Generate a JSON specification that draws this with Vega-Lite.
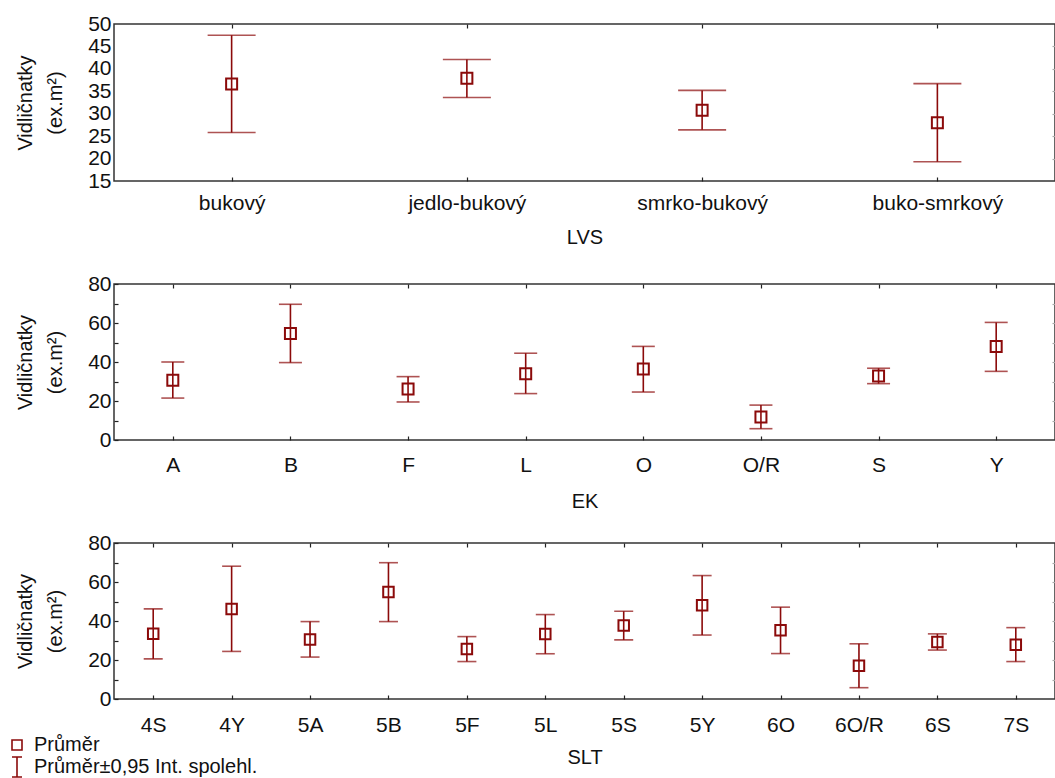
{
  "$schema": "https://vega.github.io/schema/vega-lite/v6.json",
  "padding": {"left": 5, "top": 12, "right": 0, "bottom": 0},
  "background": "white",
  "bounds": "flush",
  "spacing": 103,
  "config": {
    "font": "Liberation Sans",
    "view": {"stroke": "#333333", "strokeWidth": 1.5},
    "axis": {
      "labelFont": "Liberation Sans",
      "titleFont": "Liberation Sans",
      "labelFontSize": 21,
      "titleFontSize": 20,
      "labelColor": "#111111",
      "titleColor": "#111111",
      "titleFontWeight": "normal",
      "domain": false,
      "grid": false,
      "tickColor": "#222222",
      "tickWidth": 1.2
    },
    "legend": {
      "labelFont": "Liberation Sans",
      "labelFontSize": 20,
      "labelColor": "#111111",
      "labelLimit": 600
    }
  },
  "datasets": {
    "lvs": [
      {"cat": "bukový", "mean": 36.6, "lo": 25.8, "hi": 47.5},
      {"cat": "jedlo-bukový", "mean": 37.9, "lo": 33.6, "hi": 42.1},
      {"cat": "smrko-bukový", "mean": 30.8, "lo": 26.4, "hi": 35.2},
      {"cat": "buko-smrkový", "mean": 28.0, "lo": 19.3, "hi": 36.7}
    ],
    "ek": [
      {"cat": "A", "mean": 30.6, "lo": 21.5, "hi": 40.0},
      {"cat": "B", "mean": 54.6, "lo": 39.7, "hi": 69.6},
      {"cat": "F", "mean": 26.2, "lo": 19.5, "hi": 32.5},
      {"cat": "L", "mean": 34.0, "lo": 23.8, "hi": 44.5},
      {"cat": "O", "mean": 36.4, "lo": 24.6, "hi": 48.0},
      {"cat": "O/R", "mean": 11.8, "lo": 5.8, "hi": 17.9},
      {"cat": "S", "mean": 32.8, "lo": 28.9, "hi": 36.8},
      {"cat": "Y", "mean": 47.9, "lo": 35.2, "hi": 60.3}
    ],
    "slt": [
      {"cat": "4S", "mean": 33.4, "lo": 20.6, "hi": 46.2},
      {"cat": "4Y", "mean": 46.2, "lo": 24.4, "hi": 68.1},
      {"cat": "5A", "mean": 30.5, "lo": 21.5, "hi": 39.7},
      {"cat": "5B", "mean": 54.9, "lo": 39.7, "hi": 69.9},
      {"cat": "5F", "mean": 25.7, "lo": 19.2, "hi": 32.0},
      {"cat": "5L", "mean": 33.3, "lo": 23.2, "hi": 43.3},
      {"cat": "5S", "mean": 37.7, "lo": 30.3, "hi": 45.0},
      {"cat": "5Y", "mean": 48.1, "lo": 32.8, "hi": 63.3},
      {"cat": "6O", "mean": 35.3, "lo": 23.3, "hi": 47.1},
      {"cat": "6O/R", "mean": 17.0, "lo": 5.8, "hi": 28.3},
      {"cat": "6S", "mean": 29.2, "lo": 25.1, "hi": 33.4},
      {"cat": "7S", "mean": 27.8, "lo": 19.2, "hi": 36.6}
    ]
  },
  "resolve": {"scale": {"shape": "independent"}, "legend": {"shape": "independent"}},
  "vconcat": [
    {
      "width": 941,
      "height": 157,
      "data": {"name": "lvs"},
      "resolve": {"axis": {"x": "independent", "y": "independent"}},
      "layer": [
        {
          "mark": {"type": "rule", "color": "#8B0A0A", "strokeWidth": 1.6},
          "encoding": {
            "x": {"field": "cat", "type": "nominal", "sort": null,
              "scale": {"type": "point", "padding": 0.5},
              "axis": {"orient": "bottom", "title": "LVS", "labelAngle": 0, "tickSize": -4, "labelPadding": 15,
                "titleY": 46, "titleBaseline": "top"}},
            "y": {"field": "lo", "type": "quantitative",
              "scale": {"domain": [15, 50], "nice": false, "zero": false},
              "axis": {"orient": "left", "title": ["Vidličnatky", "(ex.m²)"], "values": [15, 20, 25, 30, 35, 40, 45, 50],
                "ticks": false, "labelPadding": 3, "titleAngle": -90, "titleX": -89, "titleY": 78.5,
                "titleAlign": "center", "titleBaseline": "middle", "titleLineHeight": 30}},
            "y2": {"field": "hi"}
          }
        },
        {
          "mark": {"type": "tick", "color": "#8B0A0A", "size": 48, "thickness": 1.6},
          "encoding": {
            "x": {"field": "cat", "type": "nominal", "sort": null, "axis": null},
            "y": {"field": "lo", "type": "quantitative", "axis": null}
          }
        },
        {
          "mark": {"type": "tick", "color": "#8B0A0A", "size": 48, "thickness": 1.6},
          "encoding": {
            "x": {"field": "cat", "type": "nominal", "sort": null, "axis": null},
            "y": {"field": "hi", "type": "quantitative", "axis": null}
          }
        },
        {
          "mark": {"type": "point", "shape": "square", "filled": false, "size": 121, "strokeWidth": 2, "color": "#8B0A0A", "opacity": 1},
          "encoding": {
            "x": {"field": "cat", "type": "nominal", "sort": null,
              "axis": {"orient": "top", "labels": false, "title": null, "tickSize": -4}},
            "y": {"field": "mean", "type": "quantitative",
              "axis": {"orient": "right", "labels": false, "title": null, "values": [20, 25, 30, 35, 40, 45], "tickSize": -3, "tickColor": "#aaaaaa"}}
          }
        }
      ]
    },
    {
      "width": 941,
      "height": 156,
      "data": {"name": "ek"},
      "resolve": {"axis": {"x": "independent", "y": "independent"}},
      "layer": [
        {
          "mark": {"type": "rule", "color": "#8B0A0A", "strokeWidth": 1.6},
          "encoding": {
            "x": {"field": "cat", "type": "nominal", "sort": null,
              "scale": {"type": "point", "padding": 0.5},
              "axis": {"orient": "bottom", "title": "EK", "labelAngle": 0, "tickSize": -4, "labelPadding": 18,
                "titleY": 51, "titleBaseline": "top"}},
            "y": {"field": "lo", "type": "quantitative",
              "scale": {"domain": [0, 80], "nice": false},
              "axis": {"orient": "left", "title": ["Vidličnatky", "(ex.m²)"], "values": [0, 10, 20, 30, 40, 50, 60, 70, 80],
                "labelExpr": "datum.value % 20 === 0 ? datum.label : ''",
                "tickSize": -4, "labelPadding": 7, "titleAngle": -90, "titleX": -89, "titleY": 78,
                "titleAlign": "center", "titleBaseline": "middle", "titleLineHeight": 30}},
            "y2": {"field": "hi"}
          }
        },
        {
          "mark": {"type": "tick", "color": "#8B0A0A", "size": 23, "thickness": 1.6},
          "encoding": {
            "x": {"field": "cat", "type": "nominal", "sort": null, "axis": null},
            "y": {"field": "lo", "type": "quantitative", "axis": null}
          }
        },
        {
          "mark": {"type": "tick", "color": "#8B0A0A", "size": 23, "thickness": 1.6},
          "encoding": {
            "x": {"field": "cat", "type": "nominal", "sort": null, "axis": null},
            "y": {"field": "hi", "type": "quantitative", "axis": null}
          }
        },
        {
          "mark": {"type": "point", "shape": "square", "filled": false, "size": 121, "strokeWidth": 2, "color": "#8B0A0A", "opacity": 1},
          "encoding": {
            "x": {"field": "cat", "type": "nominal", "sort": null,
              "axis": {"orient": "top", "labels": false, "title": null, "tickSize": -4}},
            "y": {"field": "mean", "type": "quantitative",
              "axis": {"orient": "right", "labels": false, "title": null, "values": [10, 20, 30, 40, 50, 60, 70], "tickSize": -3, "tickColor": "#aaaaaa"}}
          }
        }
      ]
    },
    {
      "width": 941,
      "height": 156,
      "data": {"name": "slt"},
      "resolve": {"axis": {"x": "independent", "y": "independent"}},
      "layer": [
        {
          "mark": {"type": "rule", "color": "#8B0A0A", "strokeWidth": 1.6},
          "encoding": {
            "x": {"field": "cat", "type": "nominal", "sort": null,
              "scale": {"type": "point", "padding": 0.5},
              "axis": {"orient": "bottom", "title": "SLT", "labelAngle": 0, "tickSize": -4, "labelPadding": 19,
                "titleY": 48, "titleBaseline": "top"}},
            "y": {"field": "lo", "type": "quantitative",
              "scale": {"domain": [0, 80], "nice": false},
              "axis": {"orient": "left", "title": ["Vidličnatky", "(ex.m²)"], "values": [0, 10, 20, 30, 40, 50, 60, 70, 80],
                "labelExpr": "datum.value % 20 === 0 ? datum.label : ''",
                "tickSize": -4, "labelPadding": 7, "titleAngle": -90, "titleX": -89, "titleY": 78,
                "titleAlign": "center", "titleBaseline": "middle", "titleLineHeight": 30}},
            "y2": {"field": "hi"}
          }
        },
        {
          "mark": {"type": "tick", "color": "#8B0A0A", "size": 19, "thickness": 1.6},
          "encoding": {
            "x": {"field": "cat", "type": "nominal", "sort": null, "axis": null},
            "y": {"field": "lo", "type": "quantitative", "axis": null}
          }
        },
        {
          "mark": {"type": "tick", "color": "#8B0A0A", "size": 19, "thickness": 1.6},
          "encoding": {
            "x": {"field": "cat", "type": "nominal", "sort": null, "axis": null},
            "y": {"field": "hi", "type": "quantitative", "axis": null}
          }
        },
        {
          "mark": {"type": "point", "filled": false, "size": 441, "strokeWidth": 2, "color": "#8B0A0A", "opacity": 1},
          "encoding": {
            "x": {"field": "cat", "type": "nominal", "sort": null,
              "axis": {"orient": "top", "labels": false, "title": null, "tickSize": -4}},
            "y": {"field": "mean", "type": "quantitative",
              "axis": {"orient": "right", "labels": false, "title": null, "values": [10, 20, 30, 40, 50, 60, 70], "tickSize": -3, "tickColor": "#aaaaaa"}},
            "shape": {
              "datum": "Průměr",
              "scale": {
                "domain": ["Průměr", "Průměr±0,95 Int. spolehl."],
                "range": ["M-0.5,-0.5H0.5V0.5H-0.5Z", "M-0.5,-1H0.5M0,-1V1M-0.5,1H0.5"]
              },
              "legend": {
                "title": null,
                "orient": "none",
                "legendX": -108,
                "legendY": 191,
                "padding": 0,
                "symbolSize": 400,
                "symbolStrokeColor": "#8B0A0A",
                "symbolStrokeWidth": 1.6,
                "symbolFillColor": "transparent",
                "labelOffset": 6,
                "labelLimit": 600,
                "rowPadding": -2
              }
            }
          }
        }
      ]
    }
  ]
}
